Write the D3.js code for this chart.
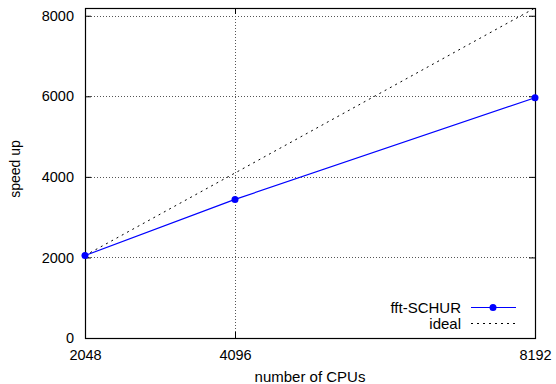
<!DOCTYPE html>
<html>
<head>
<meta charset="utf-8">
<script src="https://cdn.jsdelivr.net/npm/d3@7"></script>
<style>
    body { margin: 0; background: #fff; }
    text { font-family: "Liberation Sans", Arial, sans-serif; font-size: 15px; fill: #000; }
</style>
</head>
<body>
<div id="chart"></div>
<script>
const cpus = [2048, 4096, 8192]
const fftSchur = [2048, 3440, 5965]
const ideal = [2048, 4096, 8192]
const yTicks = [0, 2000, 4000, 6000, 8000]
const seriesNames = ["fft-SCHUR", "ideal"]

const width = 556
const height = 384
const margin = {left: 85, right: 21, top: 8, bottom: 46}

const x = d3.scaleLinear().domain([2048, 8192]).range([margin.left, width - margin.right])
const y = d3.scaleLinear().domain([0, 8192]).range([height - margin.bottom, margin.top])

const svg = d3.select("#chart").append("svg")
    .attr("width", width)
    .attr("height", height)

const x0 = margin.left, x1 = width - margin.right
const y0 = height - margin.bottom, y1 = margin.top

// grid
const grid = svg.append("g")
    .attr("stroke", "#555")
    .attr("stroke-width", 1)
    .attr("stroke-dasharray", "1,2")
grid.selectAll(".gy").data(yTicks.filter((d) => d > 0)).join("line")
    .attr("x1", x0).attr("x2", x1)
    .attr("y1", (d) => Math.round(y(d)) + 0.5).attr("y2", (d) => Math.round(y(d)) + 0.5)
grid.selectAll(".gx").data([4096]).join("line")
    .attr("y1", y0).attr("y2", y1)
    .attr("x1", (d) => Math.round(x(d)) + 0.5).attr("x2", (d) => Math.round(x(d)) + 0.5)

// axes (ticks inside, mirrored)
const yAxis = d3.axisLeft(y).tickValues(yTicks).tickSize(-6).tickPadding(11).tickFormat(d3.format("d"))
const yAxisR = d3.axisRight(y).tickValues(yTicks).tickSize(-6).tickFormat("")
const xAxis = d3.axisBottom(x).tickValues(cpus).tickSize(-6).tickPadding(12).tickFormat(d3.format("d"))
const xAxisT = d3.axisTop(x).tickValues(cpus).tickSize(-6).tickFormat("")

const styleAxis = (g) => {
    g.select(".domain").remove()
    g.selectAll("line").attr("stroke", "#000")
    g.selectAll("text").style("font-size", "14.5px").attr("fill", "#000")
        .style("font-family", "'Liberation Sans', Arial, sans-serif")
}

svg.append("g").attr("transform", `translate(${x0},0)`).call(yAxis).call(styleAxis)
svg.append("g").attr("transform", `translate(${x1},0)`).call(yAxisR).call(styleAxis)
svg.append("g").attr("transform", `translate(0,${y0})`).call(xAxis).call(styleAxis)
svg.append("g").attr("transform", `translate(0,${y1})`).call(xAxisT).call(styleAxis)

svg.append("rect")
    .attr("x", x0 + 0.5).attr("y", y1 + 0.5)
    .attr("width", x1 - x0).attr("height", y0 - y1)
    .attr("fill", "none").attr("stroke", "#000").attr("stroke-width", 1.2)

// series
const line = d3.line().x((d) => x(d[0])).y((d) => y(d[1]))
svg.append("path")
    .datum(cpus.map((c, i) => [c, ideal[i]]))
    .attr("d", line)
    .attr("fill", "none").attr("stroke", "#000")
    .attr("stroke-width", 1).attr("stroke-dasharray", "2,4")

const schur = cpus.map((c, i) => [c, fftSchur[i]])
svg.append("path")
    .datum(schur)
    .attr("d", line)
    .attr("fill", "none").attr("stroke", "#0000ff").attr("stroke-width", 1.2)
svg.selectAll(".pt").data(schur).join("circle")
    .attr("cx", (d) => x(d[0])).attr("cy", (d) => y(d[1]))
    .attr("r", 3.5).attr("fill", "#0000ff")

// legend
const leg = svg.append("g")
const legY = [307.5, 323.5]
leg.selectAll("text").data(seriesNames).join("text")
    .attr("x", 461).attr("y", (d, i) => legY[i] + 5)
    .attr("text-anchor", "end")
    .text((d) => d)
leg.append("line").attr("x1", 471).attr("x2", 516).attr("y1", legY[0]).attr("y2", legY[0])
    .attr("stroke", "#0000ff").attr("stroke-width", 1.2)
leg.append("circle").attr("cx", 493).attr("cy", legY[0]).attr("r", 3.5).attr("fill", "#0000ff")
leg.append("line").attr("x1", 471).attr("x2", 516).attr("y1", legY[1]).attr("y2", legY[1])
    .attr("stroke", "#000").attr("stroke-width", 1).attr("stroke-dasharray", "2,4")

// axis labels
svg.append("text")
    .attr("x", 310).attr("y", 382)
    .attr("text-anchor", "middle")
    .text("number of CPUs")
svg.append("text")
    .attr("transform", `translate(20,169) rotate(-90)`)
    .attr("text-anchor", "middle")
    .style("font-size", "14px")
    .text("speed up")
</script>
</body>
</html>
